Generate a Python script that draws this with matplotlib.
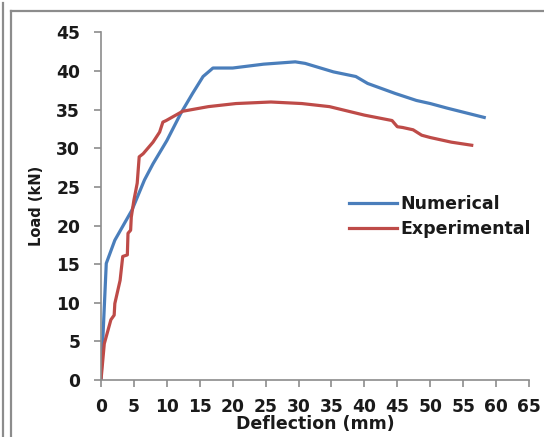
import numpy as np
import matplotlib
matplotlib.use('Agg')
import matplotlib.pyplot as plt
from matplotlib.lines import Line2D

# load-deflection curves (mm, kN)
num_defl = [0, 0.8, 2.1, 4.7, 6.6, 7.9, 10.0, 12.1, 13.9, 15.5, 16.6, 17.0,
            20.0, 24.7, 29.5, 31.0, 35.3, 38.7, 40.5, 44.7, 47.9, 50.0, 52.6, 58.2]
num_load = [0, 15.1, 18.1, 22.0, 25.9, 28.0, 31.0, 34.5, 37.1, 39.3, 40.1, 40.4,
            40.4, 40.9, 41.2, 41.0, 39.9, 39.3, 38.4, 37.1, 36.2, 35.8, 35.2, 34.0]

exp_defl = [0, 0.5, 1.5, 2.0, 2.1, 2.9, 3.3, 4.0, 4.1, 4.5, 4.6, 5.0, 5.3, 5.5,
            5.8, 6.4, 7.9, 8.9, 9.4, 9.9, 12.4, 16.3, 20.5, 25.8, 30.5, 34.7,
            40.0, 44.2, 45.0, 45.8, 47.4, 48.7, 50.0, 53.2, 56.3]
exp_load = [0, 4.7, 7.8, 8.4, 9.9, 12.9, 16.0, 16.2, 19.0, 19.4, 21.1, 23.3, 24.6, 25.5,
            28.9, 29.3, 30.8, 32.1, 33.4, 33.6, 34.8, 35.4, 35.8, 36.0, 35.8, 35.4,
            34.3, 33.6, 32.8, 32.7, 32.4, 31.7, 31.4, 30.8, 30.4]

series_names = ['Numerical', 'Experimental']
x_ticks = list(range(0, 70, 5))
y_ticks = list(range(0, 50, 5))

blue = '#4a7ebb'
red = '#be4b48'
grey = '#8c8c8c'
txt = '#1a1a1a'

W, H = 544, 437
fig = plt.figure(figsize=(W / 100, H / 100), dpi=100)

# outer frame lines
fig.add_artist(Line2D([2.5 / W, 2.5 / W], [0, 1 - 3 / H], color=grey, lw=1.6))
fig.add_artist(Line2D([10.5 / W, 10.5 / W], [0, 1 - 10.5 / H], color=grey, lw=1.6))
fig.add_artist(Line2D([10.5 / W, 1], [1 - 10.5 / H, 1 - 10.5 / H], color=grey, lw=1.6))

ax = fig.add_axes([101 / W, 57 / H, 428 / W, 347.5 / H])
l1, = ax.plot(num_defl, num_load, color=blue, lw=2.3, solid_joinstyle='round')
l2, = ax.plot(exp_defl, exp_load, color=red, lw=2.3, solid_joinstyle='round')

ax.set_xlim(0, 65)
ax.set_ylim(0, 45)
ax.set_xticks(x_ticks)
ax.set_yticks(y_ticks)
for s in ['top', 'right']:
    ax.spines[s].set_visible(False)
for s in ['left', 'bottom']:
    ax.spines[s].set_color(grey)
    ax.spines[s].set_linewidth(1.2)
ax.tick_params(direction='out', length=5, width=1.2, color=grey,
               labelsize=12.3, labelcolor=txt)
ax.tick_params(axis='y', pad=10)
ax.tick_params(axis='x', pad=8)
for lab in ax.get_xticklabels() + ax.get_yticklabels():
    lab.set_fontweight('bold')

ax.set_xlabel('Deflection (mm)', fontsize=12.5, fontweight='bold', color=txt, labelpad=-1)
ax.set_ylabel('Load (kN)', fontsize=10.5, fontweight='bold', color=txt, labelpad=9)

ax.legend([l1, l2], series_names, loc='center left',
          bbox_to_anchor=(349 / W, (H - 216.5) / H), bbox_transform=fig.transFigure,
          frameon=False, borderpad=0, borderaxespad=0,
          handlelength=2.75, handletextpad=0.22, labelspacing=0.42,
          prop={'weight': 'bold', 'size': 12.5}, labelcolor=txt)

fig.savefig('out.png', dpi=100)
